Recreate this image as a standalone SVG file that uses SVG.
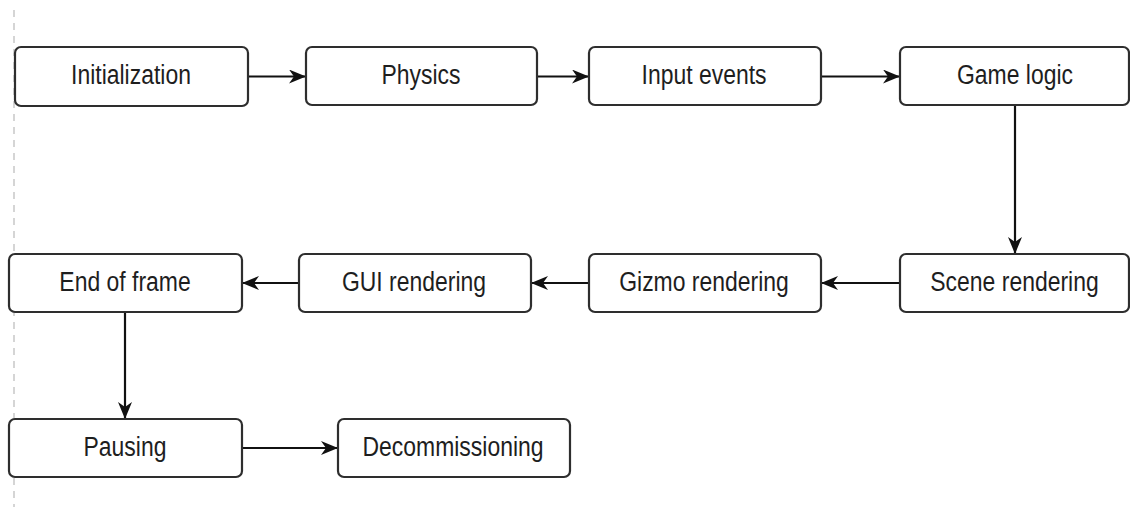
<svg xmlns="http://www.w3.org/2000/svg" width="1130" height="507" viewBox="0 0 1130 507">
<defs>
<style>
.box{fill:#fff;stroke:#2e2e2e;stroke-width:2.2}
.lbl{font-family:"Liberation Sans",Arial,sans-serif;font-size:27px;fill:#1e1e1e;text-anchor:middle}
.edge{fill:none;stroke:#111;stroke-width:2.2}
</style>
<marker id="arr" viewBox="0 0 17 14" refX="16" refY="7" markerWidth="17" markerHeight="14" markerUnits="userSpaceOnUse" orient="auto">
<path d="M0,0 L17,7 L0,14 L5,7 Z" fill="#111"/>
</marker>
</defs>
<rect width="1130" height="507" fill="#fff"/>
<line x1="14" y1="10" x2="14" y2="507" stroke="#c8c8c8" stroke-width="1.5" stroke-dasharray="7 6"/>
<g id="connectors">
<line class="edge" x1="248" y1="76.5" x2="305" y2="76.5" marker-end="url(#arr)"/>
<line class="edge" x1="537" y1="76.5" x2="588" y2="76.5" marker-end="url(#arr)"/>
<line class="edge" x1="821" y1="76.5" x2="899" y2="76.5" marker-end="url(#arr)"/>
<line class="edge" x1="1015" y1="105" x2="1015" y2="253" marker-end="url(#arr)"/>
<line class="edge" x1="900" y1="283" x2="822" y2="283" marker-end="url(#arr)"/>
<line class="edge" x1="589" y1="283" x2="532" y2="283" marker-end="url(#arr)"/>
<line class="edge" x1="299" y1="283" x2="243" y2="283" marker-end="url(#arr)"/>
<line class="edge" x1="125" y1="312" x2="125" y2="418" marker-end="url(#arr)"/>
<line class="edge" x1="242" y1="448" x2="337" y2="448" marker-end="url(#arr)"/>
</g>
<g id="n-init"><rect class="box" x="15" y="47" width="233" height="59" rx="6"/><text class="lbl" transform="translate(131 84) scale(0.85 1)">Initialization</text></g>
<g id="n-physics"><rect class="box" x="306" y="47" width="231" height="58" rx="6"/><text class="lbl" transform="translate(421 84) scale(0.85 1)">Physics</text></g>
<g id="n-input"><rect class="box" x="589" y="47" width="232" height="58" rx="6"/><text class="lbl" transform="translate(704 84) scale(0.85 1)">Input events</text></g>
<g id="n-game"><rect class="box" x="900" y="47" width="229" height="58" rx="6"/><text class="lbl" transform="translate(1015 84) scale(0.85 1)">Game logic</text></g>
<g id="n-scene"><rect class="box" x="900" y="254" width="229" height="58" rx="6"/><text class="lbl" transform="translate(1014.5 291) scale(0.85 1)">Scene rendering</text></g>
<g id="n-gizmo"><rect class="box" x="589" y="254" width="232" height="58" rx="6"/><text class="lbl" transform="translate(704 291) scale(0.85 1)">Gizmo rendering</text></g>
<g id="n-gui"><rect class="box" x="299" y="254" width="232" height="58" rx="6"/><text class="lbl" transform="translate(414 291) scale(0.85 1)">GUI rendering</text></g>
<g id="n-end"><rect class="box" x="9" y="254" width="233" height="58" rx="6"/><text class="lbl" transform="translate(125 291) scale(0.85 1)">End of frame</text></g>
<g id="n-pause"><rect class="box" x="9" y="419" width="233" height="58" rx="6"/><text class="lbl" transform="translate(125 456) scale(0.85 1)">Pausing</text></g>
<g id="n-decom"><rect class="box" x="338" y="419" width="232" height="58" rx="6"/><text class="lbl" transform="translate(453 456) scale(0.85 1)">Decommissioning</text></g>
</svg>
